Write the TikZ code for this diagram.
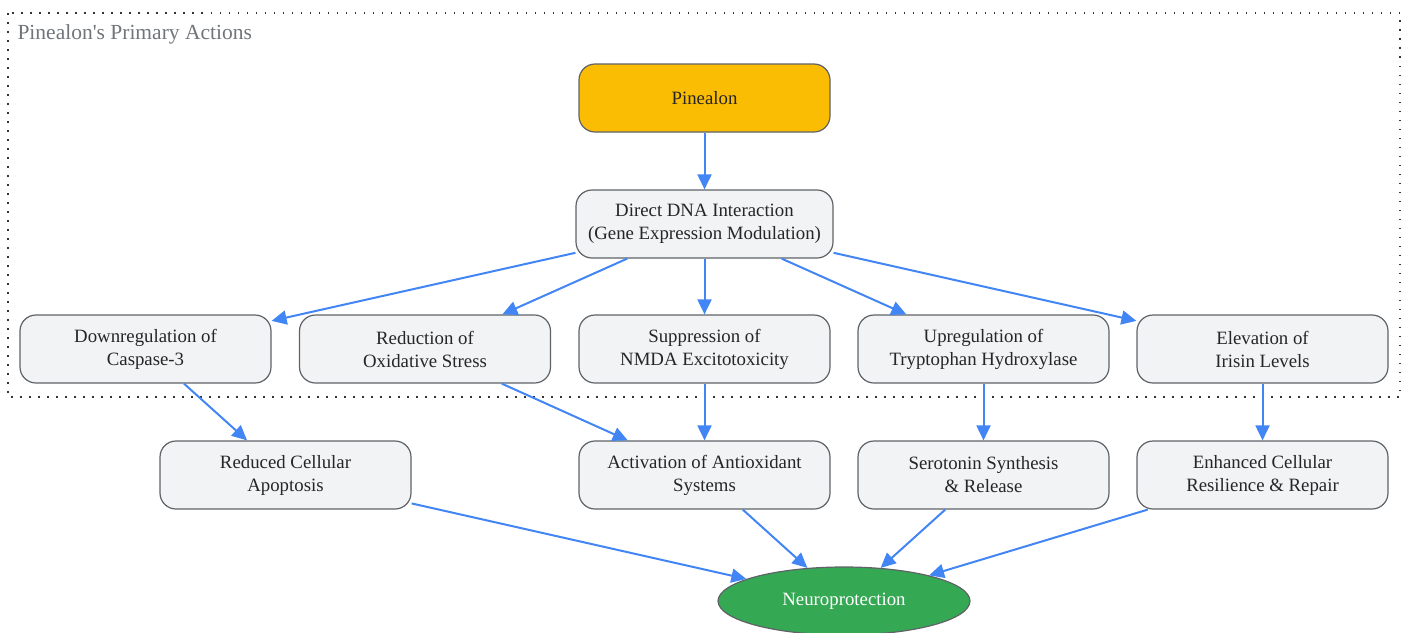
\documentclass[tikz,border=0pt]{standalone}
\usepackage{fontspec}
\setmainfont{Liberation Serif}
\usetikzlibrary{arrows.meta,shapes.geometric}
\definecolor{boxfill}{HTML}{F1F3F4}
\definecolor{boxline}{HTML}{5F6368}
\definecolor{arrowblue}{HTML}{4285F4}
\definecolor{pinegold}{HTML}{FBBC04}
\definecolor{neurogreen}{HTML}{34A853}
\definecolor{titlegray}{HTML}{70757A}
\tikzset{
  actbox/.style={draw=boxline, line width=1.2pt, fill=boxfill, rounded corners=16pt,
    minimum width=251pt, minimum height=68pt, align=center, inner sep=2pt,
    font=\fontsize{18.8}{23}\selectfont, text=black!85},
  flow/.style={draw=arrowblue, line width=2pt, -{Triangle[length=15pt,width=14pt]}},
}
\begin{document}
\begin{tikzpicture}[x=1pt,y=-1pt]
	\useasboundingbox (0,0) rectangle (1407,632);
	\draw[black!80, line width=1.5pt, dash pattern=on 1.5pt off 7.5pt] (8,13) rectangle (1400,397);
	\node[right, text=titlegray, font=\fontsize{21.5}{24}\selectfont] (title) at (14,34) {Pinealon\textquotesingle s Primary Actions};

	\node[actbox, fill=pinegold] (pine) at (704.5,98) {Pinealon};
	\node[actbox, minimum width=257pt] (dna) at (704.5,224) {Direct DNA Interaction\\(Gene Expression Modulation)};

	\node[actbox] (casp) at (145.5,349) {Downregulation of\\Caspase-3};
	\node[actbox] (oxid) at (425,349) {Reduction of\\Oxidative Stress};
	\node[actbox] (nmda) at (704.5,349) {Suppression of\\NMDA Excitotoxicity};
	\node[actbox] (tryp) at (983.5,349) {Upregulation of\\Tryptophan Hydroxylase};
	\node[actbox] (irisin) at (1262.5,349) {Elevation of\\Irisin Levels};

	\node[actbox] (apop) at (285.5,475) {Reduced Cellular\\Apoptosis};
	\node[actbox] (antiox) at (704.5,475) {Activation of Antioxidant\\Systems};
	\node[actbox] (sero) at (983.5,475) {Serotonin Synthesis\\\& Release};
	\node[actbox] (resil) at (1262.5,475) {Enhanced Cellular\\Resilience \& Repair};

	\node[ellipse, draw=boxline, line width=1.2pt, fill=neurogreen, text=white, minimum width=252pt, minimum height=68pt, inner sep=0pt, font=\fontsize{18.8}{23}\selectfont] (neuro) at (844,601) {Neuroprotection};

	\draw[flow] (pine) -- (dna);
	\draw[flow] (dna) -- (casp);
	\draw[flow] (dna) -- (oxid);
	\draw[flow] (dna) -- (nmda);
	\draw[flow] (dna) -- (tryp);
	\draw[flow] (dna) -- (irisin);
	\draw[flow] (casp) -- (apop);
	\draw[flow] (oxid) -- (antiox);
	\draw[flow] (nmda) -- (antiox);
	\draw[flow] (tryp) -- (sero);
	\draw[flow] (irisin) -- (resil);
	\draw[flow] (apop) -- (neuro);
	\draw[flow] (antiox) -- (neuro);
	\draw[flow] (sero) -- (neuro);
	\draw[flow] (resil) -- (neuro);
\end{tikzpicture}
\end{document}
